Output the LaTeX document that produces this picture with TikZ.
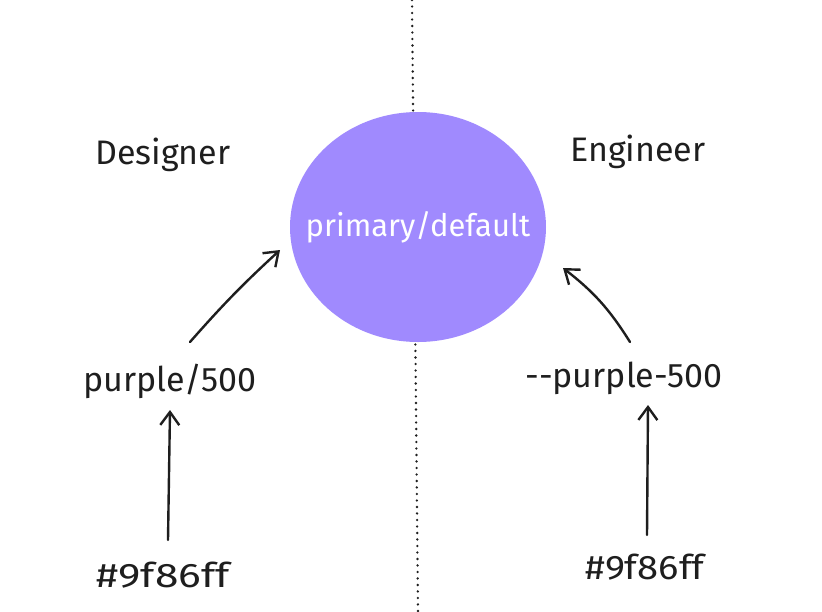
\documentclass[tikz,border=0pt]{standalone}
\usepackage{fontspec}
\setmainfont{Fira Sans}
\usetikzlibrary{arrows.meta,shapes.geometric}
\definecolor{ink}{HTML}{1E1E1E}
\definecolor{tokenfill}{HTML}{A08AFE}
\tikzset{
  label text/.style={text=ink, font=\fontsize{34}{38}\selectfont, inner sep=0pt},
  token/.style={ellipse, fill=tokenfill, minimum width=256pt, minimum height=230pt,
    text=white, font=\fontsize{31}{34}\selectfont, inner sep=0pt},
  arr/.style={draw=ink, line width=2.4pt, line cap=round,
    -{Straight Barb[length=13pt, width=19pt, line width=2.4pt]}},
}
\begin{document}
\begin{tikzpicture}[x=1pt, y=-1pt]
        \useasboundingbox (0,0) rectangle (822,611);

        % Divider (behind everything)
        \coordinate (top) at (412,0);
        \coordinate (bottom) at (418,611);
        \draw[ink, line width=2.6pt, line cap=round, dash pattern=on 0pt off 6.5pt] (top) -- (bottom);

        % Nodes (top to bottom)
        \node (prim) at (418,227) [token] {\makebox[0pt]{primary/default}};
        \node (designer) at (163,155) [label text] {Designer};
        \node (engineer) at (638,152) [label text] {Engineer};

        \node (dpurple) at (170,381) [label text] {purple/500};
        \node (epurple) at (624,378) [label text] {-{}-purple-500};

        \node (dhex) at (163,575) [label text, xscale=1.25] {\#9f86ff};
        \node (ehex) at (645,567) [label text, xscale=1.12] {\#9f86ff};

        % Edges (hex to palette)
        \draw[arr] ([xshift=5pt, yshift=35pt]dhex.center) -- ([yshift=-29pt]dpurple.center);
        \draw[arr] ([xshift=2pt, yshift=32pt]ehex.center) -- ([xshift=24pt, yshift=-27pt]epurple.center);

        % Edges (palette to token)
        \draw[arr] ([xshift=20pt, yshift=39pt]dpurple.center) to[bend left=3] ([xshift=-138pt, yshift=-23pt]prim.center);
        \draw[arr] ([xshift=6pt, yshift=36pt]epurple.center) to[bend right=10] ([xshift=145pt, yshift=-41pt]prim.center);
      \end{tikzpicture}
\end{document}
